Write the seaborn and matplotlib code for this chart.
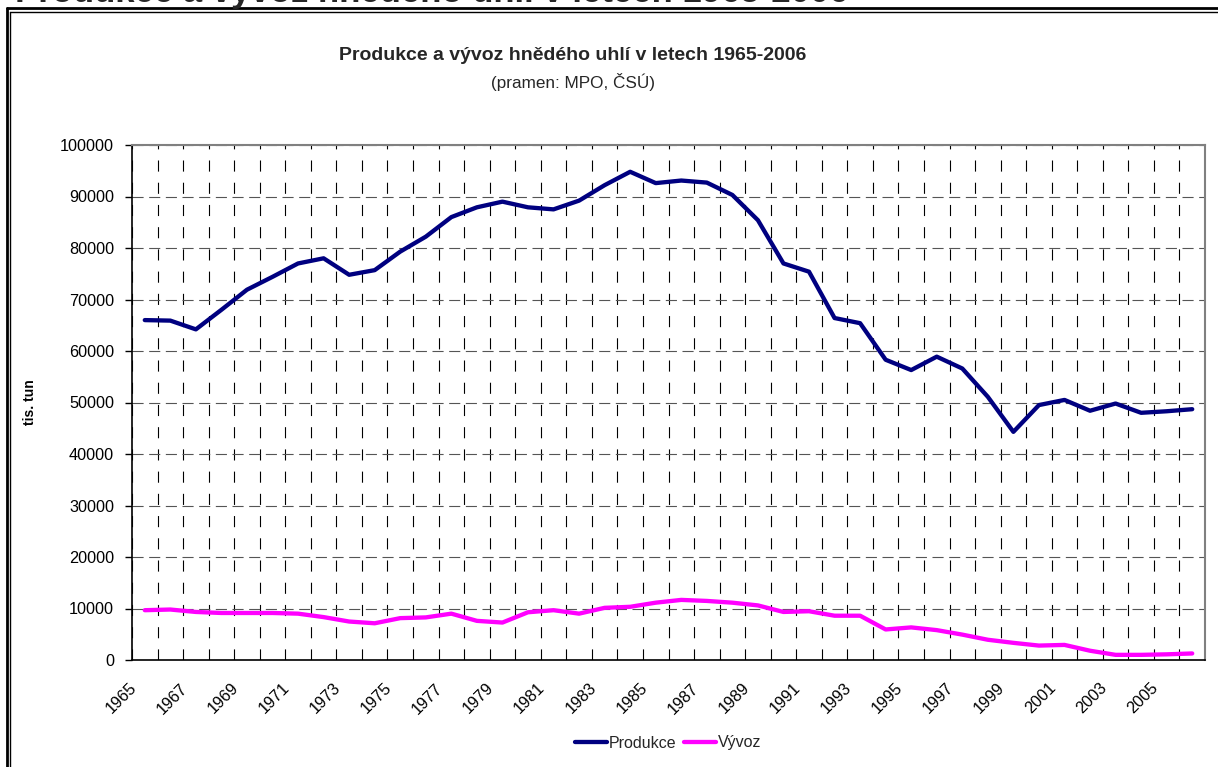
import numpy as np
import pandas as pd
import matplotlib
matplotlib.use("Agg")
import matplotlib.pyplot as plt
from matplotlib.lines import Line2D
from matplotlib.transforms import ScaledTranslation
import seaborn as sns

years = list(range(1965, 2007))
produkce = [66000, 65900, 64200, 68000, 71900, 74400, 77000, 78000, 74800, 75700,
            79300, 82200, 86000, 87900, 89000, 87900, 87500, 89200, 92200, 94800,
            92600, 93100, 92700, 90300, 85400, 77000, 75400, 66400, 65400, 58300,
            56300, 58900, 56600, 51100, 44300, 49500, 50500, 48400, 49800, 48000,
            48300, 48700]
vyvoz = [9670, 9800, 9330, 9130, 9130, 9130, 9000, 8330, 7470, 7130,
         8130, 8270, 9000, 7600, 7270, 9270, 9670, 9000, 10130, 10330,
         11130, 11670, 11470, 11130, 10600, 9330, 9470, 8600, 8600, 5930,
         6330, 5800, 4930, 3930, 3330, 2800, 2930, 1800, 1000, 1000,
         1100, 1270]
series_names = ["Produkce", "Vývoz"]
series_colors = ["#000080", "#FF00FF"]
title = "Produkce a vývoz hnědého uhlí v letech 1965-2006"
subtitle = "(pramen: MPO, ČSÚ)"
ylabel = "tis. tun"

df = pd.DataFrame({
    "rok": years * 2,
    "hodnota": produkce + vyvoz,
    "rada": [series_names[0]] * len(years) + [series_names[1]] * len(years),
})

sns.set_theme(style="white")
plt.rcParams["font.family"] = ["Liberation Sans", "DejaVu Sans"]

W, H = 1218, 767
fig = plt.figure(figsize=(W / 100, H / 100), dpi=100)
L, R, T, B = 132, 1205, 145, 660
ax = fig.add_axes([L / W, 1 - B / H, (R - L) / W, (B - T) / H])

sns.lineplot(data=df, x="rok", y="hodnota", hue="rada", hue_order=series_names,
             palette=series_colors, linewidth=3.1, ax=ax, legend=False, sort=False)

ax.set_xlim(years[0] - 0.5, years[-1] + 0.5)
ax.set_ylim(0, 100000)
ax.set_yticks(np.arange(0, 100001, 10000))
ax.set_yticklabels([str(v) for v in range(0, 100001, 10000)], fontsize=11.7, color="black")

ax.set_xticks(years[::2])
ax.set_xticklabels([str(y) for y in years[::2]], fontsize=11.7, rotation=45,
                   ha="right", va="center", rotation_mode="anchor", color="black")
ax.set_xticks(np.arange(years[0] - 0.5, years[-1] + 0.6, 1), minor=True)
ax.tick_params(axis="x", which="major", length=0, pad=18.5)
ax.tick_params(axis="x", which="minor", length=5, width=1, color="black", direction="out")
ax.tick_params(axis="y", which="major", length=5, width=1, color="black", direction="out", pad=8,
               left=True)
off = ScaledTranslation(-11 / 100, 0, fig.dpi_scale_trans)
for lab in ax.get_xticklabels():
    lab.set_transform(lab.get_transform() + off)

ax.yaxis.grid(True, which="major", color="#555555", linewidth=0.8, linestyle=(0, (10, 5)))
ax.xaxis.grid(True, which="minor", color="black", linewidth=0.8, linestyle=(0, (10, 10)))
ax.xaxis.grid(False, which="major")
ax.set_axisbelow(True)

ax.set_xlabel("")
ax.set_ylabel(ylabel, fontsize=10, fontweight="bold", color="black")
ax.yaxis.set_label_coords((37 - L) / (R - L), 0.5)

for s in ["left", "bottom"]:
    ax.spines[s].set_color("black")
    ax.spines[s].set_linewidth(1.2)
for s in ["top", "right"]:
    ax.spines[s].set_color("#808080")
    ax.spines[s].set_linewidth(1.5)

fig.text(573 / W, 1 - 55 / H, title, fontsize=14, fontweight="bold", ha="center", va="center")
fig.text(573 / W, 1 - 82 / H, subtitle, fontsize=12.3, ha="center", va="center")

handles = [Line2D([0], [0], color=c, linewidth=3.1) for c in series_colors]
fig.legend(handles, series_names, loc="center", bbox_to_anchor=(668 / W, 1 - 743 / H),
           ncol=2, frameon=False, fontsize=11.5, handlelength=2.0, handletextpad=0.1,
           columnspacing=0.5)

# document heading cut off at the top
fig.text(15 / W, 1 - 2 / H, title, fontsize=25, fontweight="bold", ha="left", va="baseline")

# double frame (left and top)
def fl(x0, y0, x1, y1, lw):
    fig.add_artist(Line2D([x0 / W, x1 / W], [1 - y0 / H, 1 - y1 / H], color="black",
                          linewidth=lw, transform=fig.transFigure))

fl(6.5, 8, 6.5, H, 2.0)
fl(6.5, 8, W, 8, 2.0)
fl(10, 11.5, 10, H, 1.0)
fl(10, 11.5, W, 11.5, 1.0)

fig.savefig("out.png", dpi=100)
